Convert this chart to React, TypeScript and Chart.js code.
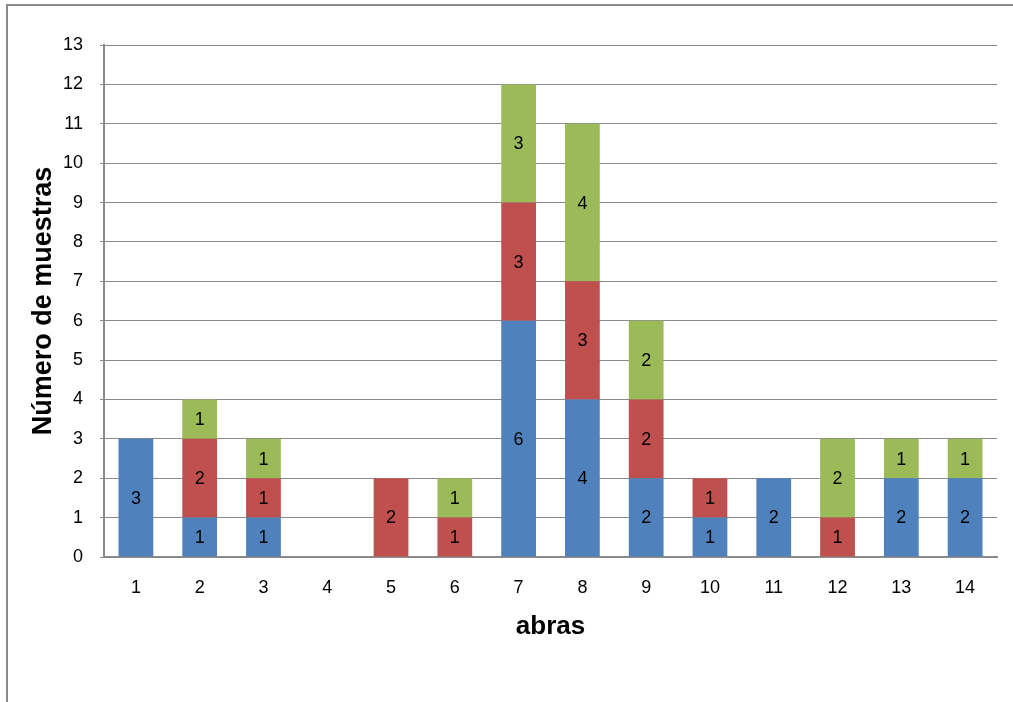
import React, { useEffect, useRef } from "react";
import { Chart, registerables } from "chart.js";

Chart.register(...registerables);

const abras = ["1", "2", "3", "4", "5", "6", "7", "8", "9", "10", "11", "12", "13", "14"];
const serieAzul = [3, 1, 1, 0, 0, 0, 6, 4, 2, 1, 2, 0, 2, 2];
const serieRoja = [0, 2, 1, 0, 2, 1, 3, 3, 2, 1, 0, 1, 0, 0];
const serieVerde = [0, 1, 1, 0, 0, 1, 3, 4, 2, 0, 0, 2, 1, 1];
const yTicks = [0, 1, 2, 3, 4, 5, 6, 7, 8, 9, 10, 11, 12, 13];

const FONT = "'Liberation Sans', Arial, sans-serif";
const GRID = "#8a8a8a";

// Writes each segment's value in the middle of its stacked block.
const segmentLabels = {
  id: "segmentLabels",
  afterDatasetsDraw(chart: any) {
    const { ctx } = chart;
    ctx.save();
    ctx.font = `18px ${FONT}`;
    ctx.fillStyle = "#000";
    ctx.textAlign = "center";
    ctx.textBaseline = "middle";
    chart.data.datasets.forEach((ds: any, di: number) => {
      const meta = chart.getDatasetMeta(di);
      meta.data.forEach((bar: any, i: number) => {
        const v = ds.data[i];
        if (!v) return;
        const yc = (bar.y + bar.base) / 2;
        ctx.fillText(String(v), bar.x, yc + 1);
      });
    });
    ctx.restore();
  },
};

// Outer frame of the chart object (top and left edges fall inside the page).
const outerFrame = {
  id: "outerFrame",
  beforeDraw(chart: any) {
    const { ctx, width, height } = chart;
    ctx.save();
    ctx.strokeStyle = GRID;
    ctx.lineWidth = 2;
    ctx.beginPath();
    ctx.moveTo(7, height + 2);
    ctx.lineTo(7, 5);
    ctx.lineTo(width + 2, 5);
    ctx.stroke();
    ctx.restore();
  },
};

export default function App() {
  const ref = useRef<HTMLCanvasElement | null>(null);

  useEffect(() => {
    document.body.style.margin = "0";
    const canvas = ref.current;
    if (!canvas) return;
    const chart = new Chart(canvas, {
      type: "bar",
      data: {
        labels: abras,
        datasets: [
          { label: "Serie 1", data: serieAzul, backgroundColor: "#4f81bd" },
          { label: "Serie 2", data: serieRoja, backgroundColor: "#c0504d" },
          { label: "Serie 3", data: serieVerde, backgroundColor: "#9bbb59" },
        ],
      },
      options: {
        responsive: false,
        animation: false,
        events: [],
        layout: { padding: { left: 0, top: 45, right: 16, bottom: 0 } },
        datasets: { bar: { barPercentage: 0.545, categoryPercentage: 1 } },
        plugins: {
          legend: { display: false },
          tooltip: { enabled: false },
        },
        scales: {
          x: {
            stacked: true,
            grid: { display: false, drawTicks: false },
            border: { display: true, color: GRID, width: 2 },
            ticks: { color: "#000", font: { family: FONT, size: 18 }, padding: 20 },
            title: {
              display: true,
              text: "abras",
              color: "#000",
              font: { family: FONT, size: 26, weight: "bold" },
              padding: { top: 0, bottom: 60 },
            },
            afterFit(scale: any) {
              scale.height = 145;
            },
          },
          y: {
            stacked: true,
            min: 0,
            max: 13,
            afterBuildTicks(scale: any) {
              scale.ticks = yTicks.map((v) => ({ value: v }));
            },
            grid: { color: GRID, lineWidth: 1, drawTicks: true, tickLength: 4 },
            border: { display: true, color: GRID, width: 2 },
            ticks: { color: "#000", font: { family: FONT, size: 18 }, padding: 17 },
            title: {
              display: true,
              text: "Número de muestras",
              color: "#000",
              font: { family: FONT, size: 27, weight: "bold" },
              padding: { top: 27, bottom: 0 },
            },
            afterFit(scale: any) {
              scale.width = 104;
            },
          },
        },
      },
      plugins: [outerFrame, segmentLabels],
    } as any);
    return () => chart.destroy();
  }, []);

  return (
    <div style={{ position: "fixed", left: 0, top: 0, width: 1013, height: 702, overflow: "hidden", background: "#fff" }}>
      <canvas ref={ref} width={1013} height={702} style={{ display: "block" }} />
    </div>
  );
}
